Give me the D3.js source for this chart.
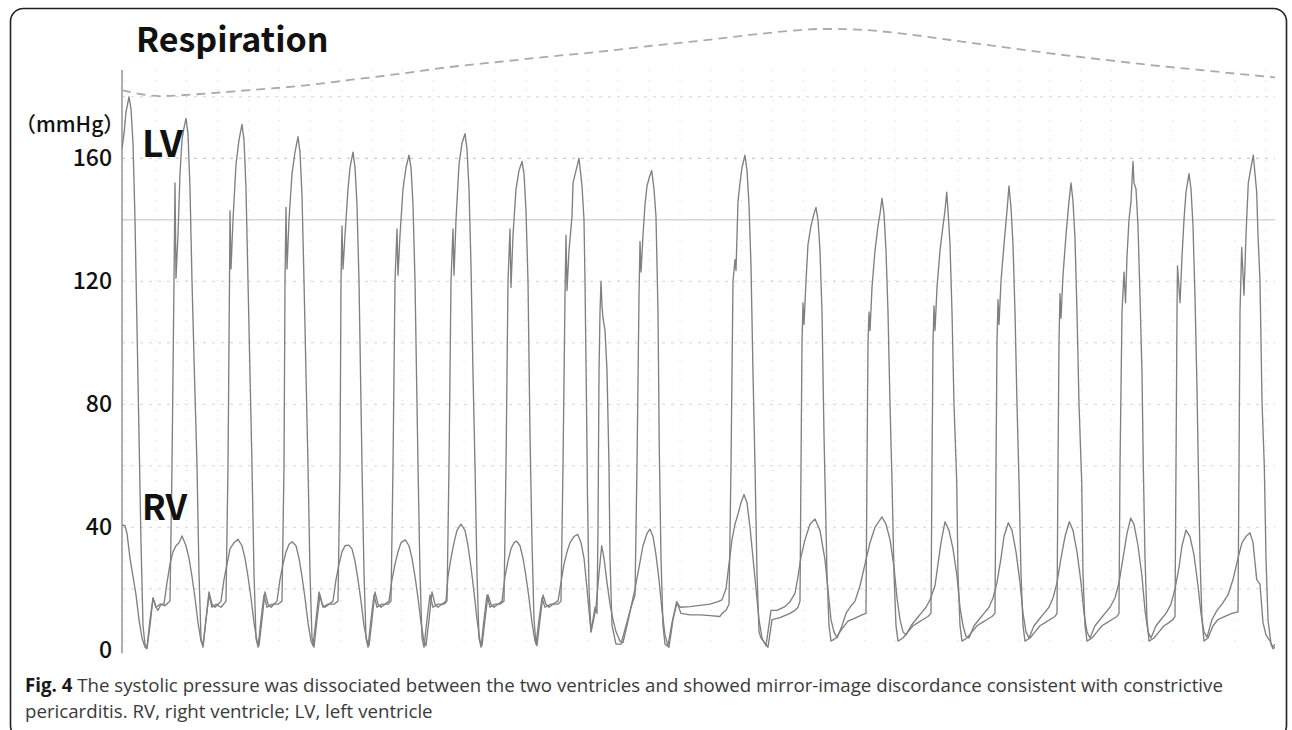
<!DOCTYPE html>
<html>
<head>
<meta charset="utf-8">
<script src="https://cdn.jsdelivr.net/npm/d3@7"></script>
<style>
body { margin: 0; background: #fff; }
svg { display: block; }
</style>
</head>
<body>
<div class="container"></div>
<script>
// time in ms from the left edge of the tracing, pressure in mmHg
const yTicks = [0, 40, 80, 120, 160]
const gridLevels = [20, 40, 60, 80, 100, 120, 140, 160, 180]

const lvTrace = [
  [0,163],[20,168],[40,175],[70,180],[90,176],[110,165],[130,140],[150,105],[170,70],[190,35],[210,8],[230,2],
  [250,1],[280,10],[310,17],[340,14],[380,15],[430,14.5],[480,16],
  [500,60],[520,120],[530,152],[540,121],[560,135],[580,155],[600,166],[620,170],[640,173],[660,168],[680,150],[700,120],[720,95],[750,60],[770,25],[790,4],[810,1],
  [840,10],[870,18],[900,14],[940,15],[990,14],[1040,16],
  [1060,60],[1075,120],[1080,143],[1090,124],[1110,140],[1140,158],[1170,166],[1200,171],[1220,166],[1240,150],[1260,120],[1280,90],[1300,60],[1320,25],[1340,4],[1360,1],
  [1390,10],[1420,18],[1450,14],[1500,15],[1560,15],[1600,16],
  [1620,60],[1630,120],[1640,144],[1650,124],[1670,140],[1700,155],[1730,162],[1760,167],[1780,162],[1800,148],[1820,120],[1840,90],[1860,60],[1880,25],[1900,4],[1920,1],
  [1950,10],[1980,18],[2010,14],[2060,15],[2120,15],[2160,16],
  [2180,60],[2190,120],[2200,138],[2210,124],[2230,135],[2260,150],[2280,157],[2310,162],[2330,157],[2350,145],[2370,120],[2390,80],[2400,60],[2420,25],[2440,4],[2460,1],
  [2490,10],[2520,18],[2550,14],[2600,15],[2660,15],[2690,16],
  [2710,60],[2730,120],[2750,137],[2760,122],[2780,135],[2810,150],[2840,157],[2870,161],[2890,157],[2910,145],[2930,120],[2950,80],[2960,60],[2980,25],[3000,4],[3020,1],
  [3050,10],[3080,18],[3110,14],[3160,15],[3220,15],[3250,16],
  [3270,60],[3290,120],[3310,137],[3320,122],[3340,140],[3370,158],[3400,165],[3430,168],[3450,163],[3470,150],[3490,125],[3510,90],[3530,60],[3550,25],[3570,4],[3590,1],
  [3620,10],[3650,18],[3680,14],[3730,15],[3780,15],[3820,16],
  [3840,60],[3860,120],[3880,137],[3890,118],[3910,135],[3940,150],[3970,156],[4000,159],[4020,155],[4040,143],[4060,120],[4080,70],[4100,35],[4120,10],[4140,2],
  [4170,10],[4200,17],[4230,14],[4290,15],[4360,15],[4390,16],
  [4410,60],[4430,115],[4440,135],[4450,117],[4470,130],[4500,141],[4510,152],[4540,156],[4570,160],[4600,151],[4620,140],[4630,120],[4645,80],[4655,50],[4670,20],[4690,6],
  [4710,10],[4730,14],[4750,12],
  [4760,40],[4770,90],[4780,110],[4790,120],[4800,112],[4810,108],[4830,104],[4850,91],[4870,60],[4880,30],[4900,8],[4940,2],[4990,2],[5040,8],[5090,14],[5130,18],
  [5150,60],[5170,115],[5180,133],[5190,123],[5210,135],[5230,145],[5250,151],[5275,154],[5297,156],[5320,150],[5340,141],[5360,110],[5373,65],[5390,30],[5410,8],[5430,2],
  [5470,1],[5510,10],[5550,15.5],[5590,12],[5680,11.5],[5780,11.5],[5880,11.3],[5980,11],[6000,12],[6040,13],[6070,15],
  [6090,60],[6110,120],[6130,127],[6140,123.5],[6160,146],[6180,152],[6200,157],[6230,161],[6250,156],[6270,145],[6290,125],[6310,90],[6330,60],[6350,25],[6370,6],[6390,4],[6460,1],
  [6500,10],[6580,10.6],[6680,12],[6730,13],[6760,14],[6780,16],
  [6790,60],[6800,100],[6810,113],[6820,106],[6840,120],[6860,132],[6890,138],[6920,142],[6940,144],[6960,140],[6980,130],[7000,110],[7020,70],[7030,55],[7050,25],[7070,8],[7090,3],
  [7140,4],[7200,7],[7260,9.5],[7330,10.5],[7400,11.5],[7440,12],
  [7450,60],[7460,100],[7470,110],[7480,104],[7500,118],[7530,130],[7560,138],[7580,142],[7600,147],[7620,142],[7640,130],[7660,110],[7680,80],[7700,55],[7720,25],[7740,8],[7760,3],
  [7810,4],[7860,6],[7910,8],[7960,9],[8010,10],[8060,11],[8090,12],
  [8100,60],[8110,100],[8120,112],[8130,104],[8150,118],[8180,130],[8210,138],[8230,143],[8247,149],[8260,143],[8280,132],[8300,110],[8320,80],[8347,55],[8360,25],[8380,8],[8400,3],
  [8450,4],[8500,6],[8550,8],[8600,9],[8650,10],[8700,11],[8730,12],
  [8740,60],[8750,100],[8760,114],[8770,106],[8790,120],[8820,132],[8850,143],[8870,151],[8890,144],[8910,132],[8930,110],[8950,80],[8970,55],[8990,25],[9010,8],[9030,3],
  [9080,4],[9130,6],[9180,8],[9230,9],[9280,10],[9330,11],[9350,12],
  [9360,60],[9370,100],[9380,116],[9390,108],[9410,122],[9440,135],[9470,146],[9490,152],[9510,146],[9530,134],[9550,110],[9570,80],[9597,55],[9610,25],[9630,8],[9650,3],
  [9700,4],[9750,6],[9800,8],[9850,9],[9900,10],[9950,11],[9970,12],
  [9980,60],[10000,110],[10020,123],[10035,113],[10050,128],[10070,140],[10090,146],[10110,159],[10120,152],[10140,150],[10160,138],[10180,115],[10200,90],[10213,60],[10230,30],[10250,10],[10270,3],
  [10320,4],[10370,6],[10420,8],[10470,9],[10510,10],[10530,11],
  [10540,60],[10550,110],[10555,125],[10580,113],[10600,128],[10620,140],[10640,149],[10670,155],[10690,150],[10710,138],[10730,115],[10750,85],[10763,60],[10780,30],[10800,10],[10820,3],
  [10860,4],[10910,8],[10960,10],[11030,11],[11100,12],[11160,12.5],
  [11170,60],[11180,110],[11197,131],[11220,115.5],[11240,135],[11263,152],[11290,157],[11313,161],[11347,149],[11360,135],[11380,120],[11400,81],[11423,60],[11440,30],[11460,10],[11490,2],[11510,0.5],[11530,1]
]

const rvTrace = [
  [0,40.8],[30,40.5],[50,38],[80,30],[110,24],[140,18],[170,10],[200,4],[230,1],[250,0.5],
  [280,8],[310,17],[340,14],[360,13],[390,15],[420,15],
  [450,22],[480,28],[510,32],[540,34],[570,35],[600,37.2],[640,34],[670,30],[700,24],[730,17],[760,9],[790,3],[810,1.5],
  [840,10],[870,19],[900,15],[930,14],[960,15],[990,16],
  [1020,23],[1050,28],[1080,33],[1120,35],[1160,36.1],[1200,34],[1230,30],[1260,24],[1290,17],[1320,9],[1350,3],[1370,1.5],
  [1400,10],[1430,19],[1460,15],[1490,14],[1520,15],[1550,16],
  [1580,23],[1610,28],[1640,32],[1670,34.5],[1700,35.3],[1740,34],[1770,30],[1800,24],[1830,17],[1860,9],[1890,3],[1910,1.5],
  [1940,10],[1970,19],[2000,15],[2030,14],[2070,15],[2110,16],
  [2140,23],[2170,28],[2200,32],[2230,34],[2267,34.2],[2300,33],[2330,29],[2360,23],[2390,16],[2420,8],[2450,3],[2470,1.5],
  [2500,10],[2530,19],[2560,15],[2590,14],[2630,15],[2670,16],
  [2700,23],[2730,28],[2760,32],[2790,35],[2833,35.9],[2870,34],[2900,30],[2930,24],[2960,17],[2990,9],[3020,3],[3040,1.5],
  [3070,10],[3100,19],[3130,15],[3160,14],[3200,15],[3240,16],
  [3260,24],[3290,30],[3320,35],[3350,39],[3390,41],[3430,39],[3460,34],[3490,27],[3520,19],[3550,10],[3580,3],[3600,1.5],
  [3630,10],[3660,18],[3690,15],[3720,14],[3760,15],[3800,16],
  [3830,24],[3860,29],[3890,33],[3920,35],[3947,35.5],[3980,34],[4010,30],[4040,24],[4070,17],[4100,9],[4130,3],[4150,1.5],
  [4180,10],[4210,18],[4240,15],[4270,14],[4310,15],[4360,16],
  [4390,22],[4420,28],[4450,32],[4480,35],[4520,37],[4557,37.7],[4590,35],[4620,30],[4650,20],[4670,13],[4690,6],[4710,9],[4740,14],[4770,25],[4797,34],[4820,30],[4850,22],[4880,15],[4910,10],[4940,6],[4980,3],[5010,2.5],
  [5050,8],[5090,14],[5130,20],[5170,27],[5210,34],[5250,38],[5280,39.4],[5310,37],[5340,31],[5370,23],[5400,13],[5430,5],[5460,1.5],
  [5500,9],[5547,15.8],[5580,14],[5680,14.2],[5780,14.6],[5880,15],[5960,15.8],[6000,16.4],[6040,20],[6070,28],[6100,36],[6130,41],[6163,44.6],[6190,48],[6220,50.7],[6250,48],[6280,40],[6310,30],[6340,20],[6370,10],[6400,4],[6440,1.5],
  [6490,13],[6550,13],[6630,14.2],[6680,15.8],[6730,18.5],[6760,24],[6790,30.4],[6830,36],[6880,41],[6930,42.7],[6980,39],[7030,29.4],[7060,19.6],[7090,10],[7120,6],[7150,4],
  [7200,8],[7240,12],[7280,14],[7330,16],[7380,21],[7430,28],[7480,35],[7530,40],[7600,43.4],[7640,41],[7680,36],[7720,27],[7750,17],[7780,10],[7810,6],[7840,5],
  [7890,8],[7940,10],[7990,12],[8040,14],[8080,16.4],[8130,21],[8160,28],[8190,35],[8230,41.8],[8270,39],[8310,33],[8350,24],[8380,14],[8410,8],[8440,4.5],[8470,4],
  [8520,8],[8570,10],[8620,12],[8670,14],[8710,17],[8750,22],[8790,30],[8820,37],[8863,41.5],[8900,39],[8940,32],[8980,22],[9010,12],[9040,6],[9070,4],
  [9120,8],[9170,10],[9220,12],[9270,14],[9310,17],[9350,22],[9390,30],[9430,37],[9473,41.8],[9510,39],[9550,32],[9590,22],[9620,12],[9650,6],[9680,4],
  [9730,8],[9780,10],[9830,12],[9880,14],[9930,17],[9970,22],[10010,30],[10050,38],[10087,43],[10120,41],[10160,34],[10200,24],[10230,13],[10260,6],[10290,4],
  [10340,8],[10390,10],[10440,12],[10490,15],[10530,20],[10570,27],[10600,34],[10640,39.1],[10680,37],[10720,31],[10760,21],[10790,12],[10820,6],[10850,4.3],
  [10900,10],[10950,13],[11000,15],[11060,18],[11110,23],[11160,30],[11200,35],[11240,37],[11280,38.2],[11310,35],[11347,23],[11380,21.5],[11410,9],[11440,5],[11480,3],[11510,1],[11530,2]
]

// respiration, relative units (0 = expiration trough, 100 = inspiration top)
const respTrace = [
  [0,13.3],[180,8],[380,5.3],[780,8],[1280,13.3],[1780,18.7],[2280,26.7],[2780,35],[3280,44],[3780,51],
  [4280,58],[4780,64.4],[5280,72],[5780,79],[6280,86.7],[6780,93.3],[6980,94.7],[7280,94.3],[7780,88.9],
  [8280,80],[8780,71.1],[9280,62.2],[9780,54.3],[10280,46.7],[10780,40],[11280,33.3],[11530,30.3]
]

const captionLines = [
  ['Fig. 4', ' The systolic pressure was dissociated between the two ventricles and showed mirror-image discordance consistent with constrictive'],
  ['', 'pericarditis. RV, right ventricle; LV, left ventricle']
]

let width = 1292
let height = 730
let plot = { left: 122, right: 1275, top: 70, zero: 650.3 }
const jp = '"Noto Sans CJK JP", "Noto Sans", sans-serif'

let svg = d3.select('.container')
    .append('svg')
    .attr('width', width)
    .attr('height', height)

svg.append('rect')
    .attr('x', 10.5).attr('y', 8.5)
    .attr('width', 1276).attr('height', 730)
    .attr('rx', 13)
    .attr('fill', '#fff')
    .attr('stroke', '#222')
    .attr('stroke-width', 1.6)

let xScale = d3.scaleLinear()
    .domain([0, 11530])
    .range([plot.left, plot.right])

let yScale = d3.scaleLinear()
    .domain([0, 160])
    .range([plot.zero, 158.3])

let respScale = d3.scaleLinear()
    .domain([0, 100])
    .range([100, 25])

// faint grid
svg.append('g')
    .selectAll('line')
    .data(d3.range(30, 11530, 308.3))
    .enter()
    .append('line')
    .attr('x1', d => xScale(d)).attr('x2', d => xScale(d))
    .attr('y1', plot.top).attr('y2', plot.zero)
    .attr('stroke', '#d8d8d8')
    .attr('stroke-dasharray', '1,9')

svg.append('g')
    .selectAll('line')
    .data(gridLevels)
    .enter()
    .append('line')
    .attr('x1', plot.left).attr('x2', plot.right)
    .attr('y1', d => yScale(d)).attr('y2', d => yScale(d))
    .attr('stroke', d => d === 140 ? '#c4c4c4' : (d === 160 ? '#bdbdbd' : '#d4d4d4'))
    .attr('stroke-dasharray', d => d === 140 ? null : '3,6')
    .attr('stroke-width', 1)

let yAxis = d3.axisLeft(yScale)
    .tickValues(yTicks)
    .tickSize(0)
    .tickPadding(10)

let axisG = svg.append('g')
    .attr('transform', `translate(${plot.left},0)`)
    .call(yAxis)
axisG.select('.domain').remove()
axisG.selectAll('text')
    .attr('x', 112 - plot.left)
    .style('font-family', jp)
    .style('font-size', '23px')
    .style('font-weight', 500)
    .attr('fill', '#111')

svg.append('line')
    .attr('x1', plot.left).attr('x2', plot.left)
    .attr('y1', plot.top).attr('y2', plot.zero + 3)
    .attr('stroke', '#9a9a9a')
    .attr('stroke-width', 1.6)

svg.append('defs').append('clipPath')
    .attr('id', 'plotClip')
    .append('rect')
    .attr('x', plot.left).attr('y', 20)
    .attr('width', plot.right - plot.left).attr('height', plot.zero - 10)

let line = d3.line()
    .x(d => xScale(d[0]))
    .y(d => yScale(d[1]))

let traces = svg.append('g').attr('clip-path', 'url(#plotClip)')

traces.append('path')
    .datum(rvTrace)
    .attr('d', line)
    .attr('fill', 'none')
    .attr('stroke', '#808080')
    .attr('stroke-width', 1.35)
    .attr('stroke-linejoin', 'round')

traces.append('path')
    .datum(lvTrace)
    .attr('d', line)
    .attr('fill', 'none')
    .attr('stroke', '#808080')
    .attr('stroke-width', 1.35)
    .attr('stroke-linejoin', 'round')

let respLine = d3.line()
    .x(d => xScale(d[0]))
    .y(d => respScale(d[1]))
    .curve(d3.curveMonotoneX)

svg.append('path')
    .datum(respTrace)
    .attr('d', respLine)
    .attr('fill', 'none')
    .attr('stroke', '#ababab')
    .attr('stroke-width', 1.8)
    .attr('stroke-dasharray', '9,6')

svg.append('text')
    .attr('x', 136).attr('y', 52)
    .style('font-family', jp)
    .style('font-size', '34px')
    .style('font-weight', 700)
    .attr('fill', '#111')
    .text('Respiration')

svg.append('text')
    .attr('x', 15).attr('y', 132)
    .style('font-family', jp)
    .style('font-size', '21px')
    .style('font-weight', 500)
    .attr('fill', '#111')
    .text('（mmHg）')

svg.append('text')
    .attr('x', 142).attr('y', 157)
    .style('font-family', jp)
    .style('font-size', '37px')
    .style('font-weight', 700)
    .attr('fill', '#111')
    .text('LV')

svg.append('text')
    .attr('x', 142).attr('y', 520)
    .style('font-family', jp)
    .style('font-size', '35px')
    .style('font-weight', 700)
    .attr('fill', '#111')
    .text('RV')

let cap = svg.append('g')
    .style('font-family', '"Open Sans", sans-serif')
    .style('font-size', '18.7px')

captionLines.forEach((ln, i) => {
    let t = cap.append('text')
        .attr('x', 25)
        .attr('y', 692 + i * 26)
    t.append('tspan')
        .style('font-weight', 700)
        .attr('fill', '#1a1a1a')
        .text(ln[0])
    t.append('tspan')
        .attr('fill', '#3a3a3a')
        .text(ln[1])
})
</script>
</body>
</html>
